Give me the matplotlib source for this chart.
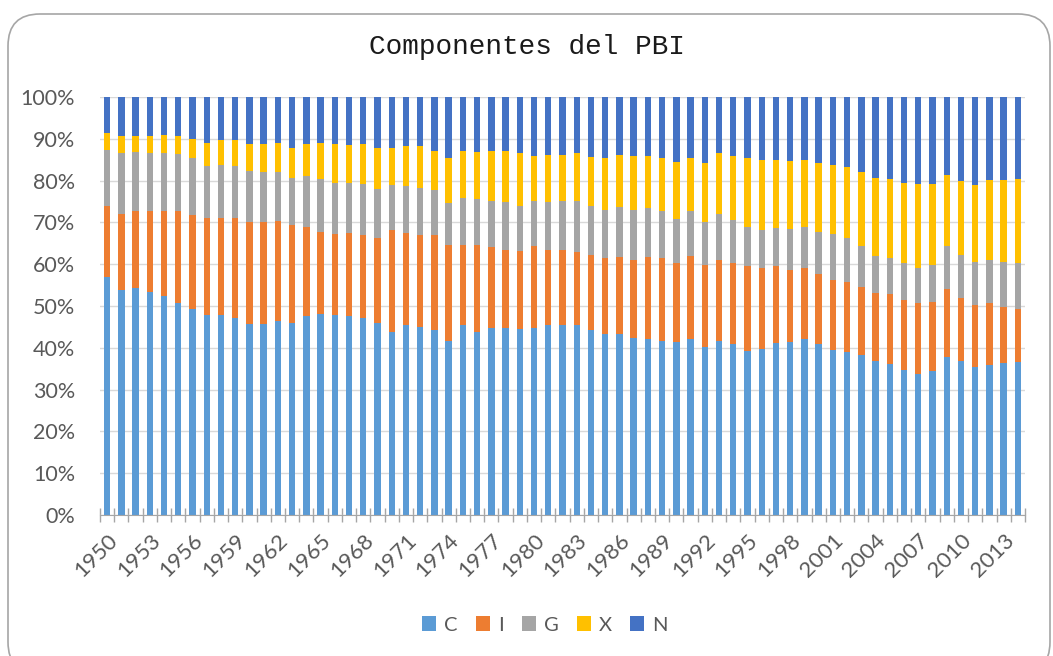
import matplotlib
matplotlib.use("Agg")
import matplotlib.pyplot as plt
from matplotlib.patches import FancyBboxPatch
from matplotlib.ticker import FixedLocator, PercentFormatter
import numpy as np

# years and shares (%) of each component
years = list(range(1950, 2015))

C = [57.0, 53.9, 54.3, 53.4, 52.4, 50.6, 49.4, 47.8, 47.8, 47.2,
     45.7, 45.7, 46.3, 46.0, 47.5, 48.2, 47.8, 47.5, 47.2, 46.0,
     43.8, 45.4, 45.0, 44.2, 41.7, 45.4, 43.8, 44.7, 44.7, 44.5,
     44.7, 45.4, 45.4, 45.4, 44.2, 43.2, 43.2, 42.3, 42.0, 41.7,
     41.4, 42.0, 40.2, 41.7, 40.8, 39.3, 39.8, 41.1, 41.4, 42.0,
     40.8, 39.5, 38.9, 38.3, 36.8, 36.2, 34.8, 33.8, 34.4, 37.9,
     36.9, 35.3, 36.0, 36.3, 36.6]
I = [17.0, 18.2, 18.5, 19.4, 20.4, 22.2, 22.4, 23.2, 23.2, 23.8,
     24.3, 24.3, 24.0, 23.4, 21.5, 19.6, 19.4, 20.0, 19.7, 20.2,
     24.4, 22.1, 21.9, 22.7, 23.0, 19.3, 20.9, 19.5, 18.8, 18.7,
     19.7, 18.1, 18.1, 17.5, 18.1, 18.2, 18.5, 18.7, 19.7, 19.7,
     19.0, 20.0, 19.6, 19.3, 19.4, 20.2, 19.2, 18.4, 17.2, 17.2,
     16.9, 16.7, 16.9, 16.3, 16.3, 16.6, 16.7, 16.8, 16.6, 16.1,
     14.9, 15.0, 14.6, 13.4, 12.8]
G = [13.4, 14.5, 14.1, 13.8, 13.8, 13.5, 13.6, 12.4, 12.8, 12.4,
     12.2, 12.0, 11.7, 11.3, 12.0, 12.7, 12.3, 12.0, 12.3, 11.7,
     10.7, 11.1, 11.3, 10.8, 9.9, 11.1, 10.8, 11.0, 11.4, 10.8,
     10.8, 11.4, 11.7, 12.3, 11.7, 11.6, 12.0, 12.0, 11.7, 11.4,
     10.5, 10.8, 10.2, 11.1, 10.4, 9.5, 9.2, 9.2, 9.9, 9.8,
     10.1, 11.0, 10.5, 9.8, 8.9, 8.6, 8.7, 8.6, 8.8, 10.4,
     10.5, 10.2, 10.4, 10.8, 10.8]
X = [4.0, 4.0, 3.7, 4.0, 4.4, 4.3, 4.6, 5.6, 5.9, 6.3,
     6.5, 6.7, 7.0, 7.1, 7.7, 8.5, 9.2, 8.9, 9.5, 9.9,
     8.9, 9.6, 10.0, 9.5, 10.8, 11.4, 11.4, 12.0, 12.3, 12.6,
     10.7, 11.3, 11.0, 11.4, 11.7, 12.4, 12.5, 12.9, 12.5, 12.6,
     13.5, 12.6, 14.2, 14.5, 15.3, 16.4, 16.8, 16.3, 16.2, 16.0,
     16.4, 16.6, 16.9, 17.6, 18.7, 19.0, 19.3, 20.0, 19.4, 17.0,
     17.5, 18.4, 19.2, 19.7, 20.2]
N = [8.6, 9.4, 9.4, 9.4, 9.0, 9.4, 10.0, 11.0, 10.3, 10.3,
     11.3, 11.3, 11.0, 12.2, 11.3, 11.0, 11.3, 11.6, 11.3, 12.2,
     12.2, 11.8, 11.8, 12.8, 14.6, 12.8, 13.1, 12.8, 12.8, 13.4,
     14.1, 13.8, 13.8, 13.4, 14.3, 14.6, 13.8, 14.1, 14.1, 14.6,
     15.6, 14.6, 15.8, 13.4, 14.1, 14.6, 15.0, 15.0, 15.3, 15.0,
     15.8, 16.2, 16.8, 18.0, 19.3, 19.6, 20.5, 20.8, 20.8, 18.6,
     20.2, 21.1, 19.8, 19.8, 19.6]

series = ["C", "I", "G", "X", "N"]
colors = ["#5B9BD5", "#ED7D31", "#A5A5A5", "#FFC000", "#4472C4"]

W, H = 1053, 656
fig = plt.figure(figsize=(W / 100, H / 100), dpi=100)

# rounded frame around the chart
bg = fig.add_axes([0, 0, 1, 1])
bg.set_xlim(0, W)
bg.set_ylim(H, 0)
bg.axis("off")
bg.add_patch(FancyBboxPatch((8, 14), 1042, 660, boxstyle="round,pad=0,rounding_size=32",
                            fc="white", ec="#A6A6A6", lw=1.2))

ax = fig.add_axes([100 / W, (H - 515) / H, 925 / W, 418 / H])
ax.set_facecolor("none")

data = np.array([C, I, G, X, N])
data = data / data.sum(axis=0) * 100
pos = np.arange(len(years))
bottom = np.zeros(len(years))
for name, vals, col in zip(series, data, colors):
    ax.bar(pos, vals, 0.45, bottom=bottom, color=col, label=name, zorder=3)
    bottom += vals

ax.set_xlim(-0.5, len(years) - 0.5)
ax.set_ylim(0, 100)
ax.yaxis.set_major_locator(FixedLocator(np.arange(0, 101, 10)))
ax.yaxis.set_major_formatter(PercentFormatter(decimals=0))
ax.grid(axis="y", color="#D9D9D9", lw=1, zorder=0)
for s in ["top", "right", "left"]:
    ax.spines[s].set_visible(False)
ax.spines["bottom"].set_color("#A6A6A6")
ax.spines["bottom"].set_zorder(4)

ax.tick_params(axis="y", length=0, labelsize=15.5, labelcolor="#595959", pad=18)
for t in ax.get_yticklabels():
    t.set_fontfamily("Lato")

ax.set_xticks(pos[::3])
ax.set_xticklabels([str(y) for y in years[::3]], rotation=45, ha="right",
                   rotation_mode="anchor", fontsize=16, color="#595959", family="Lato")
ax.tick_params(axis="x", length=0, pad=11)
ax.set_xticks(np.arange(-0.5, len(years), 1), minor=True)
ax.tick_params(axis="x", which="minor", direction="inout", length=10, color="#A6A6A6", width=1)

fig.text(0.5, (H - 47) / H, "Componentes del PBI", ha="center", va="center",
         fontsize=20, family="Liberation Mono", color="#1a1a1a")

leg = fig.legend(loc="center", bbox_to_anchor=(545 / W, (H - 625) / H), ncol=5,
                 frameon=False, handlelength=0.7, handleheight=0.7, handletextpad=0.4,
                 columnspacing=0.9, prop={"family": "Lato", "size": 14.5})
for t in leg.get_texts():
    t.set_color("#595959")

fig.savefig("out.png", dpi=100)
